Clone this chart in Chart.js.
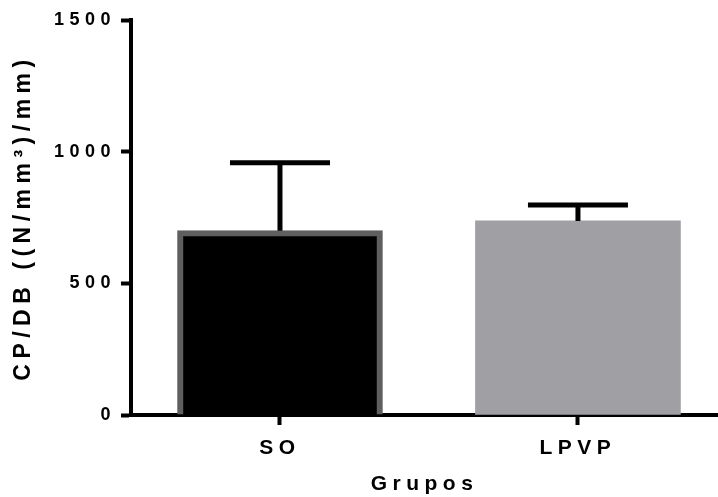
<!DOCTYPE html>
<html>
<head>
<meta charset="utf-8">
<script src="https://cdn.jsdelivr.net/npm/chart.js@4"></script>
<style>
  html, body { margin: 0; padding: 0; background: #fff; }
  #wrap { width: 718px; height: 497px; }
</style>
</head>
<body>
<div id="wrap"><canvas id="chart"></canvas></div>
<script>
// data
const groups = ['SO', 'LPVP'];
const means = [700, 737];
const upperErrors = [258, 60];
const yTicks = [0, 500, 1000, 1500];

const fontFamily = '"Liberation Sans", Arial, sans-serif';

// GraphPad style spaced lettering
const spacingPlugin = {
    id: 'spacing',
    beforeUpdate(chart) { chart.ctx.letterSpacing = '5.5px'; },
    beforeDraw(chart) { chart.ctx.letterSpacing = '5.5px'; }
};

// upper error bars (mean + SD) with a cap
const errorBarPlugin = {
    id: 'errorBars',
    afterDatasetsDraw(chart) {
        const ctx = chart.ctx;
        const xScale = chart.scales.x;
        const yScale = chart.scales.y;
        ctx.save();
        ctx.strokeStyle = '#000';
        ctx.lineWidth = 5;
        ctx.lineCap = 'butt';
        means.forEach((m, i) => {
            const x = xScale.getPixelForValue(i);
            const yTop = yScale.getPixelForValue(m + upperErrors[i]);
            const yBase = yScale.getPixelForValue(m);
            ctx.beginPath();
            ctx.moveTo(x, yBase);
            ctx.lineTo(x, yTop);
            ctx.moveTo(x - 50, yTop);
            ctx.lineTo(x + 50, yTop);
            ctx.stroke();
        });
        ctx.restore();
    }
};

const chart = document.getElementById('chart').getContext('2d');

new Chart(chart, {
    type: 'bar',
    data: {
        datasets: [{
            data: means.map((v, i) => ({ x: i, y: v })),
            backgroundColor: ['#000000', 'rgb(160,159,164)'],
            borderColor: ['#5f5f5f', 'rgb(160,159,164)'],
            borderWidth: [6, 0],
            borderSkipped: 'bottom',
            barThickness: 205
        }]
    },
    options: {
        responsive: true,
        maintainAspectRatio: false,
        animation: false,
        layout: { padding: { top: 20, right: 0, left: 0, bottom: 0 } },
        plugins: {
            legend: { display: false },
            tooltip: { enabled: false }
        },
        scales: {
            x: {
                type: 'linear',
                offset: false,
                min: -0.5,
                max: 1.47,
                afterBuildTicks: s => { s.ticks = groups.map((g, i) => ({ value: i })); },
                afterFit: s => { s.height = 82; },
                ticks: {
                    callback: v => groups[v],
                    color: '#000',
                    padding: 11,
                    maxRotation: 0,
                    font: { family: fontFamily, size: 21, weight: 'bold' }
                },
                grid: {
                    display: true,
                    offset: false,
                    drawOnChartArea: false,
                    drawTicks: true,
                    tickLength: 10,
                    tickWidth: 4,
                    tickColor: '#000'
                },
                border: { display: true, color: '#000', width: 4 },
                title: {
                    display: true,
                    text: 'Grupos',
                    color: '#000',
                    padding: { top: 0, bottom: 0 },
                    font: { family: fontFamily, size: 21, weight: 'bold' }
                }
            },
            y: {
                min: 0,
                max: 1500,
                afterBuildTicks: s => { s.ticks = yTicks.map(v => ({ value: v })); },
                afterFit: s => { s.width = 131; },
                ticks: {
                    callback: v => String(v),
                    color: '#000',
                    padding: 5,
                    font: { family: fontFamily, size: 18, weight: 'bold' }
                },
                grid: {
                    display: true,
                    drawOnChartArea: false,
                    drawTicks: true,
                    tickLength: 10,
                    tickWidth: 4,
                    tickColor: '#000'
                },
                border: { display: true, color: '#000', width: 4 },
                title: {
                    display: true,
                    text: 'CP/DB ((N/mm³)/mm)',
                    color: '#000',
                    padding: { top: 10, bottom: 0 },
                    font: { family: fontFamily, size: 23, weight: 'bold' }
                }
            }
        }
    },
    plugins: [spacingPlugin, errorBarPlugin]
});
</script>
</body>
</html>
